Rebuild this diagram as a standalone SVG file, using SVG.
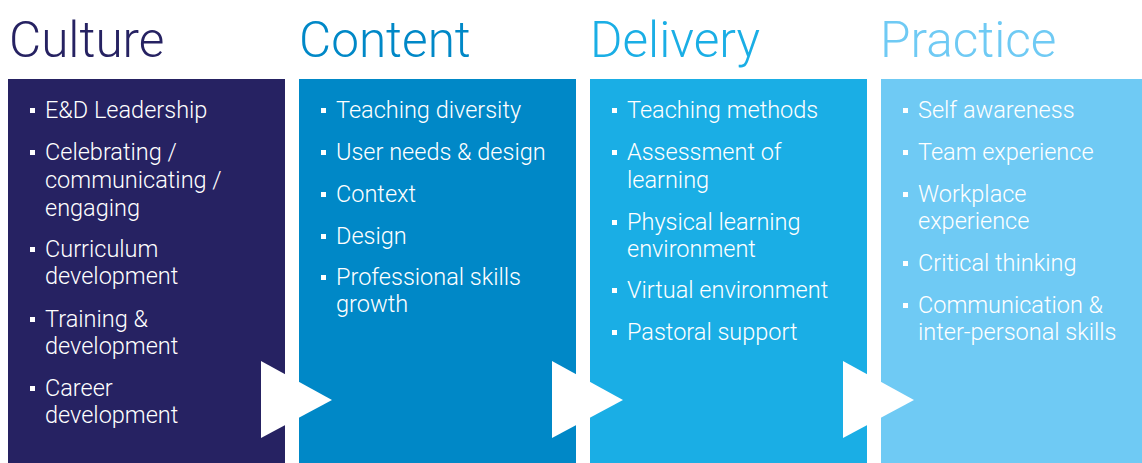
<svg xmlns="http://www.w3.org/2000/svg" width="1142" height="463" viewBox="0 0 1142 463">
<style>
.h{font-family:Roboto,"Liberation Sans",sans-serif;font-weight:300;font-size:49.5px}
.t{font-family:Roboto,"Liberation Sans",sans-serif;font-weight:300;font-size:23.5px;fill:#ffffff}
.b{fill:#ffffff}
.c1{fill:#262262}
.c2{fill:#0088c7}
.c3{fill:#1aaee5}
.c4{fill:#6fcaf4}
.arrow{fill:#ffffff}
</style>
<rect width="1142" height="463" fill="#ffffff"/>
<g id="culture">
<text class="h c1" x="9" y="57">Culture</text>
<rect class="c1" x="8" y="79" width="277" height="384"/>
<rect class="b" x="30" y="108" width="5" height="5"/><text class="t" x="45" y="118">E&amp;D Leadership</text>
<rect class="b" x="30" y="150" width="5" height="5"/><text class="t" x="45" y="160">Celebrating /</text>
<text class="t" x="45" y="188">communicating /</text>
<text class="t" x="45" y="216">engaging</text>
<rect class="b" x="30" y="247" width="5" height="5"/><text class="t" x="45" y="257">Curriculum</text>
<text class="t" x="45" y="284">development</text>
<rect class="b" x="30" y="317" width="5" height="5"/><text class="t" x="45" y="327">Training &amp;</text>
<text class="t" x="45" y="354">development</text>
<rect class="b" x="30" y="386" width="5" height="5"/><text class="t" x="45" y="396">Career</text>
<text class="t" x="45" y="423">development</text>
</g>
<g id="content">
<text class="h c2" x="299" y="57">Content</text>
<rect class="c2" x="299" y="79" width="277" height="384"/>
<rect class="b" x="321" y="108" width="5" height="5"/><text class="t" x="336" y="118">Teaching diversity</text>
<rect class="b" x="321" y="150" width="5" height="5"/><text class="t" x="336" y="160">User needs &amp; design</text>
<rect class="b" x="321" y="192" width="5" height="5"/><text class="t" x="336" y="202">Context</text>
<rect class="b" x="321" y="234" width="5" height="5"/><text class="t" x="336" y="244">Design</text>
<rect class="b" x="321" y="275" width="5" height="5"/><text class="t" x="336" y="285">Professional skills</text>
<text class="t" x="336" y="312">growth</text>
</g>
<g id="delivery">
<text class="h c3" x="590" y="57">Delivery</text>
<rect class="c3" x="590" y="79" width="277" height="384"/>
<rect class="b" x="612" y="108" width="5" height="5"/><text class="t" x="627" y="118">Teaching methods</text>
<rect class="b" x="612" y="150" width="5" height="5"/><text class="t" x="627" y="160">Assessment of</text>
<text class="t" x="627" y="188">learning</text>
<rect class="b" x="612" y="220" width="5" height="5"/><text class="t" x="627" y="230">Physical learning</text>
<text class="t" x="627" y="257">environment</text>
<rect class="b" x="612" y="288" width="5" height="5"/><text class="t" x="627" y="298">Virtual environment</text>
<rect class="b" x="612" y="330" width="5" height="5"/><text class="t" x="627" y="340">Pastoral support</text>
</g>
<g id="practice">
<text class="h c4" x="880" y="57">Practice</text>
<rect class="c4" x="881" y="79" width="261" height="384"/>
<rect class="b" x="903" y="108" width="5" height="5"/><text class="t" x="918" y="118">Self awareness</text>
<rect class="b" x="903" y="150" width="5" height="5"/><text class="t" x="918" y="160">Team experience</text>
<rect class="b" x="903" y="192" width="5" height="5"/><text class="t" x="918" y="202">Workplace</text>
<text class="t" x="918" y="229">experience</text>
<rect class="b" x="903" y="261" width="5" height="5"/><text class="t" x="918" y="271">Critical thinking</text>
<rect class="b" x="903" y="303" width="5" height="5"/><text class="t" x="918" y="313">Communication &amp;</text>
<text class="t" x="918" y="340">inter-personal skills</text>
</g>
<g id="connectors">
<polygon class="arrow" points="261,361 332,400 261,438"/>
<polygon class="arrow" points="552,361 623,400 552,438"/>
<polygon class="arrow" points="843,361 914,400 843,438"/>
</g>
</svg>
